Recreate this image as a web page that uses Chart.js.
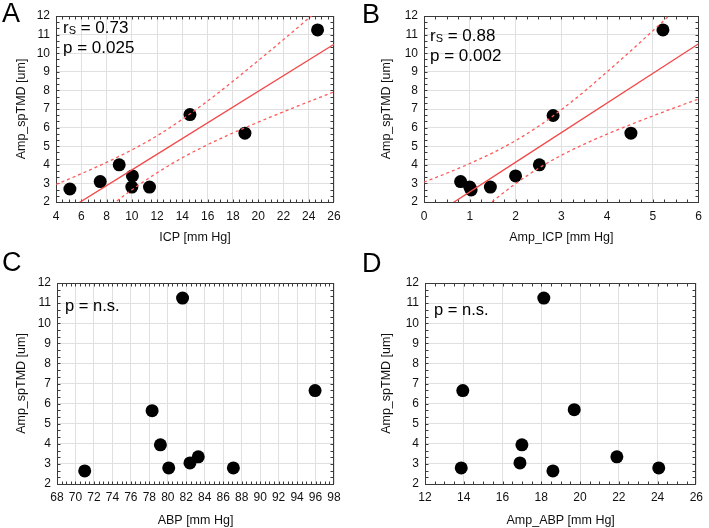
<!DOCTYPE html>
<html>
<head>
<meta charset="utf-8">
<script src="https://cdn.jsdelivr.net/npm/chart.js@4.4.0/dist/chart.umd.min.js"></script>
<style>
  body { margin: 0; background: #fff; }
  #wrap { position: relative; width: 709px; height: 528px; overflow: hidden; }
  canvas { position: absolute; }
  .letter { position: absolute; font-family: "Liberation Sans", Arial, sans-serif; font-size: 27px; line-height: 27px; color: #000; }
</style>
</head>
<body>
<div id="wrap">
  <canvas id="chartA" width="354" height="264" style="left:0;top:0"></canvas>
  <canvas id="chartB" width="355" height="264" style="left:354px;top:0"></canvas>
  <canvas id="chartC" width="354" height="264" style="left:0;top:264px"></canvas>
  <canvas id="chartD" width="355" height="264" style="left:354px;top:264px"></canvas>
  <div class="letter" style="left:2px;top:0px">A</div>
  <div class="letter" style="left:362px;top:1px">B</div>
  <div class="letter" style="left:2px;top:249px">C</div>
  <div class="letter" style="left:362px;top:250px">D</div>
</div>
<script>
// Panel A: Amp_spTMD vs ICP
const icp = [5.1, 7.5, 9.0, 10.05, 10.0, 11.4, 14.6, 18.95, 24.7];
const spTmdA = [2.7, 3.1, 4.0, 3.4, 2.8, 2.8, 6.7, 5.7, 11.25];
const fitAx = [4, 26];
const fitAy = [1.19, 10.48];
const bandAx = [4, 6, 8, 10, 12, 14, 16, 18, 20, 22, 24, 26];
const bandAupper = [2.94, 3.52, 4.13, 4.80, 5.56, 6.45, 7.43, 8.49, 9.60, 10.73, 11.88, 13.04];
const bandAlower = [-0.57, 0.55, 1.63, 2.65, 3.57, 4.38, 5.08, 5.71, 6.29, 6.85, 7.39, 7.92];

// Panel B: Amp_spTMD vs Amp_ICP
const ampIcp = [0.8, 1.0, 1.03, 1.45, 2.0, 2.52, 2.82, 4.52, 5.22];
const spTmdB = [3.1, 2.8, 2.65, 2.8, 3.4, 4.0, 6.65, 5.7, 11.25];
const fitBx = [0, 6];
const fitBy = [0.95, 10.51];
const bandBx = [0, 0.5, 1, 1.5, 2, 2.5, 3, 3.5, 4, 4.5, 5, 5.5, 6];
const bandBupper = [3.07, 3.55, 4.07, 4.64, 5.30, 6.07, 6.96, 7.94, 9.00, 10.09, 11.21, 12.34, 13.48];
const bandBlower = [-1.16, -0.05, 1.02, 2.04, 2.98, 3.81, 4.51, 5.11, 5.65, 6.15, 6.63, 7.09, 7.54];

// Panel C: Amp_spTMD vs ABP
const abp = [71.0, 78.3, 79.2, 80.1, 81.6, 82.4, 83.3, 87.1, 95.95];
const spTmdC = [2.65, 5.65, 3.95, 2.8, 11.25, 3.05, 3.35, 2.8, 6.65];

// Panel D: Amp_spTMD vs Amp_ABP
const ampAbp = [13.87, 13.95, 16.9, 17.0, 18.13, 18.6, 19.7, 21.9, 24.06];
const spTmdD = [2.8, 6.65, 3.05, 3.95, 11.25, 2.65, 5.7, 3.35, 2.8];

const FONT = '"Liberation Sans", Arial, sans-serif';
Chart.defaults.font.family = FONT;

function toPoints(xs, ys) {
    return xs.map((x, i) => ({ x: x, y: ys[i] }));
}

// frame around plot area, with small inward minor ticks
const framePlugin = {
    id: 'frame',
    beforeDatasetsDraw(chart, args, opts) {
        const a = chart.chartArea;
        const ctx = chart.ctx;
        const xs = chart.scales.x, ys = chart.scales.y;
        const L = Math.round(a.left) + 0.5, R = Math.round(a.right) - 0.5;
        const T = Math.round(a.top) + 0.5, B = Math.round(a.bottom) + 0.5;
        ctx.save();
        ctx.strokeStyle = '#3a3a3a';
        ctx.lineWidth = 1;
        ctx.beginPath();
        const n = Math.round((xs.max - xs.min) / opts.xMinor);
        for (let i = 1; i < n; i++) {
            const px = Math.round(xs.getPixelForValue(xs.min + i * opts.xMinor)) + 0.5;
            ctx.moveTo(px, B); ctx.lineTo(px, B - 3);
            ctx.moveTo(px, T); ctx.lineTo(px, T + 3);
        }
        const m = Math.round((ys.max - ys.min) / opts.yMinor);
        for (let i = 1; i < m; i++) {
            const py = Math.round(ys.getPixelForValue(ys.min + i * opts.yMinor)) + 0.5;
            ctx.moveTo(L, py); ctx.lineTo(L + 3, py);
            ctx.moveTo(R, py); ctx.lineTo(R - 3, py);
        }
        ctx.stroke();
        ctx.strokeRect(L, T, R - L, B - T);
        ctx.restore();
    }
};

// r_s / p annotation text
const statTextPlugin = {
    id: 'statText',
    afterDraw(chart, args, opts) {
        if (!opts.lines) return;
        const ctx = chart.ctx;
        ctx.save();
        ctx.fillStyle = '#000';
        ctx.textAlign = 'left';
        ctx.textBaseline = 'alphabetic';
        opts.lines.forEach((parts, i) => {
            let x = opts.x;
            const y = opts.y + i * opts.gap;
            parts.forEach(p => {
                ctx.font = p[1] + 'px ' + FONT;
                ctx.fillText(p[0], x, y + (p[2] || 0));
                x += ctx.measureText(p[0]).width;
            });
        });
        ctx.restore();
    }
};

function lineSet(xs, ys, dashed) {
    return {
        type: 'line',
        data: toPoints(xs, ys),
        showLine: true,
        borderColor: dashed ? '#ff5a5a' : '#f24a4a',
        borderWidth: 1.3,
        borderDash: dashed ? [3, 3] : [],
        pointRadius: 0,
        cubicInterpolationMode: 'monotone',
        fill: false
    };
}

function makePanel(id, cfg) {
    const datasets = [];
    if (cfg.fit) {
        datasets.push(lineSet(cfg.bandX, cfg.upper, true));
        datasets.push(lineSet(cfg.bandX, cfg.lower, true));
        datasets.push(lineSet(cfg.fit[0], cfg.fit[1], false));
    }
    datasets.push({
        data: toPoints(cfg.xs, cfg.ys),
        backgroundColor: '#000',
        borderColor: '#000',
        borderWidth: 0,
        pointRadius: 6.5,
        pointHoverRadius: 6.5
    });

    return new Chart(document.getElementById(id), {
        type: 'scatter',
        data: { datasets: datasets },
        options: {
            responsive: false,
            animation: false,
            layout: { padding: { top: cfg.top, right: cfg.right, left: 0, bottom: 0 } },
            plugins: {
                legend: { display: false },
                tooltip: { enabled: false },
                statText: cfg.stat,
                frame: { xMinor: cfg.xStep / 4, yMinor: 1 / 3 }
            },
            scales: {
                x: {
                    type: 'linear',
                    min: cfg.xMin,
                    max: cfg.xMax,
                    ticks: {
                        stepSize: cfg.xStep,
                        autoSkip: false,
                        maxRotation: 0,
                        maxTicksLimit: 100,
                        padding: cfg.xTickPad,
                        color: '#111',
                        font: { size: 12 }
                    },
                    grid: { color: '#e0e0e0', drawTicks: false },
                    border: { display: false },
                    title: {
                        display: true,
                        text: cfg.xTitle,
                        color: '#111',
                        font: { size: 12.5 },
                        padding: { top: 0, bottom: cfg.xTitlePad }
                    },
                    afterFit: s => { s.height = cfg.xAxisH; }
                },
                y: {
                    type: 'linear',
                    min: 2,
                    max: 12,
                    ticks: {
                        stepSize: 1,
                        padding: 6,
                        color: '#111',
                        font: { size: 12 }
                    },
                    grid: { color: '#e0e0e0', drawTicks: false },
                    border: { display: false },
                    title: {
                        display: true,
                        text: 'Amp_spTMD [um]',
                        color: '#111',
                        font: { size: 12.5 },
                        padding: { top: cfg.yTitlePad, bottom: 0 }
                    },
                    afterFit: s => { s.width = cfg.yAxisW; }
                }
            }
        },
        plugins: [framePlugin, statTextPlugin]
    });
}

makePanel('chartA', {
    xs: icp, ys: spTmdA,
    fit: [fitAx, fitAy], bandX: bandAx, upper: bandAupper, lower: bandAlower,
    xMin: 4, xMax: 26, xStep: 2, xTitle: 'ICP [mm Hg]',
    top: 16, right: 20, yAxisW: 56, xAxisH: 62, xTickPad: 7, xTitlePad: 18.5, yTitlePad: 14,
    stat: { x: 63, y: 33, gap: 20, lines: [[['r', 17], ['S', 11, 1], [' = 0.73', 17]], [['p = 0.025', 17]]] }
});

makePanel('chartB', {
    xs: ampIcp, ys: spTmdB,
    fit: [fitBx, fitBy], bandX: bandBx, upper: bandBupper, lower: bandBlower,
    xMin: 0, xMax: 6, xStep: 1, xTitle: 'Amp_ICP [mm Hg]',
    top: 16, right: 8, yAxisW: 70, xAxisH: 62, xTickPad: 7, xTitlePad: 18.5, yTitlePad: 25.5,
    stat: { x: 76, y: 41, gap: 20, lines: [[['r', 17], ['S', 11, 1], [' = 0.88', 17]], [['p = 0.002', 17]]] }
});

makePanel('chartC', {
    xs: abp, ys: spTmdC,
    xMin: 68, xMax: 98, xStep: 2, xTitle: 'ABP [mm Hg]',
    top: 19, right: 20, yAxisW: 57, xAxisH: 44, xTickPad: 6, xTitlePad: 0, yTitlePad: 14,
    stat: { x: 65, y: 47, gap: 20, lines: [[['p = n.s.', 16.5]]] }
});

makePanel('chartD', {
    xs: ampAbp, ys: spTmdD,
    xMin: 12, xMax: 26, xStep: 2, xTitle: 'Amp_ABP [mm Hg]',
    top: 19, right: 7, yAxisW: 71, xAxisH: 44, xTickPad: 6, xTitlePad: 0, yTitlePad: 25.5,
    stat: { x: 80, y: 51, gap: 20, lines: [[['p = n.s.', 16.5]]] }
});
</script>
</body>
</html>
